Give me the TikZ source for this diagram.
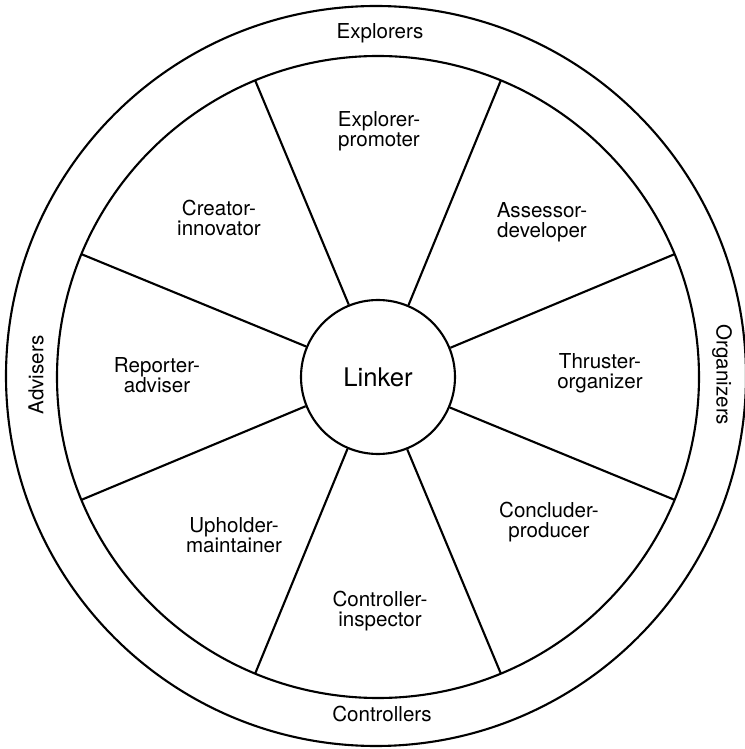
\documentclass[tikz,border=0pt]{standalone}
\usepackage{fontspec}
\setmainfont{TeX Gyre Heros}
\usepackage{tikz}
\usetikzlibrary{calc, positioning}

\newcommand{\rolefont}{\fontsize{11.7}{11.4}\selectfont}
\newcommand{\hubfont}{\fontsize{14.6}{17}\selectfont}
\tikzset{
    rim/.style={line width=1.2pt},
    role/.style={align=center, font=\rolefont, inner sep=0pt},
    team/.style={font=\rolefont, inner sep=0pt}
}

\begin{document}
\begin{tikzpicture}[line width=1.2pt]

    % =================================================================
    % 1. MAIN COORDINATES
    % =================================================================
    % wheel centre at the origin, ring between r = 6.42 and r = 7.4
    \useasboundingbox (-7.56,-7.44) rectangle (7.34,7.54);
    \coordinate (O) at (0,0);
    \coordinate (Oout) at (-0.04,0.02);

    % =================================================================
    % 2. OUTER RING AND HUB
    % =================================================================
    \draw[rim] (Oout) circle (7.4);
    \draw[rim] (O) circle (6.42);
    \node[circle, draw, rim, minimum size=3.08cm, inner sep=0pt,
          font=\hubfont] (linker) at (O) {Linker};

    % =================================================================
    % 3. SPOKES
    % =================================================================
    \foreach \a [count=\i] in {22.5, 67.5, 112.5, 157.5, 202.5, 247.5, 292.5, 337.5} {
        \coordinate (rim\i) at (\a:6.42);
        \draw (linker.\a) -- (rim\i);
    }

    % =================================================================
    % 4. LABELS
    % =================================================================
    % team names in the ring
    \node[team] (explorers) at (0.04, 6.88) {Explorers};
    \node[team] (controllers) at (0.08, -6.74) {Controllers};
    \node[team, rotate=90] (advisers) at (-6.84, 0.04) {Advisers};
    \node[team, rotate=-90] (organizers) at (6.88, 0.04) {Organizers};

    % roles in the sectors
    \node[role] (explorer) at (0.02, 4.92) {Explorer-\\promoter};
    \node[role] (assessor) at (3.28, 3.10) {Assessor-\\developer};
    \node[role] (thruster) at (4.44, 0.08) {Thruster-\\organizer};
    \node[role] (concluder) at (3.42, -2.90) {Concluder-\\producer};
    \node[role] (controller) at (0.04, -4.68) {Controller-\\inspector};
    \node[role] (upholder) at (-2.88, -3.16) {Upholder-\\maintainer};
    \node[role] (reporter) at (-4.42, 0.04) {Reporter-\\adviser};
    \node[role] (creator) at (-3.18, 3.18) {Creator-\\innovator};

\end{tikzpicture}
\end{document}
